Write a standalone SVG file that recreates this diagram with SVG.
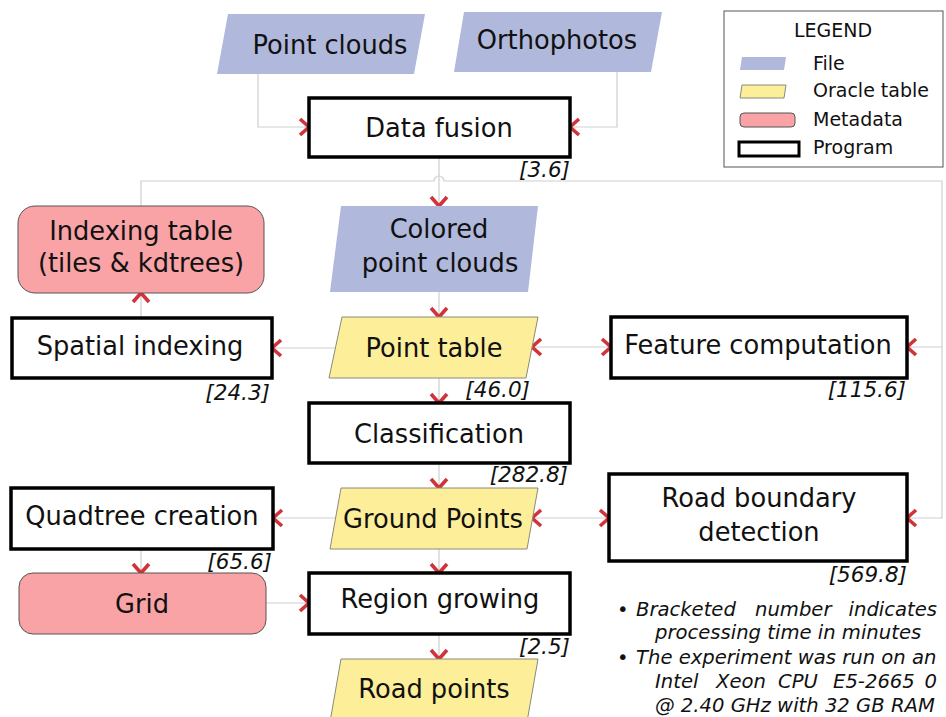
<svg xmlns="http://www.w3.org/2000/svg" width="946" height="717" viewBox="0 0 946 717">
<style>
text{font-family:"DejaVu Sans","Verdana",sans-serif;fill:#111}
.t{font-size:25.7px;text-anchor:middle}
.b{font-size:21.5px;font-style:italic;text-anchor:end}
.lg{font-size:19px}
.n{font-size:19.6px;font-style:italic}
.file{fill:#b0b8dc;stroke:none}
.ora{fill:#fdee99;stroke:#8a8a7a;stroke-width:1}
.meta{fill:#f9a3a6;stroke:#555;stroke-width:1}
.prog{fill:#fff;stroke:#000;stroke-width:3.5}
.c{fill:none;stroke:#cfcfcf;stroke-width:1.2}
.ah{fill:none;stroke:#d0343a;stroke-width:3.6}
</style>
<defs>
<path id="chev" class="ah" d="M-9,-8 L0,0 L-9,8"/>
</defs>
<g id="connectors">
<path class="c" d="M258,74 V127 H309"/>
<path class="c" d="M617,72 V127 H570"/>
<path class="c" d="M439,157 V206"/>
<path class="c" d="M141,206 V181 H434 A5,5 0 0 1 444,181 H942 V347 H907"/>
<path class="c" d="M942,347 V518 H907"/>
<path class="c" d="M439,292 V317"/>
<path class="c" d="M335,348 H272"/>
<path class="c" d="M532,347 H611"/>
<path class="c" d="M141,318 V293"/>
<path class="c" d="M439,378 V403"/>
<path class="c" d="M439,463 V488"/>
<path class="c" d="M336,518 H273"/>
<path class="c" d="M532,518 H609"/>
<path class="c" d="M141,549 V573"/>
<path class="c" d="M266,603 H309"/>
<path class="c" d="M439,549 V573"/>
<path class="c" d="M439,634 V659"/>
<use href="#chev" transform="translate(309,127)"/>
<use href="#chev" transform="translate(570,127) rotate(180)"/>
<use href="#chev" transform="translate(439,206) rotate(90)"/>
<use href="#chev" transform="translate(907,347) rotate(180)"/>
<use href="#chev" transform="translate(907,518) rotate(180)"/>
<use href="#chev" transform="translate(439,317) rotate(90)"/>
<use href="#chev" transform="translate(272,348) rotate(180)"/>
<use href="#chev" transform="translate(532,347) rotate(180)"/>
<use href="#chev" transform="translate(611,347)"/>
<use href="#chev" transform="translate(141,293) rotate(-90)"/>
<use href="#chev" transform="translate(439,403) rotate(90)"/>
<use href="#chev" transform="translate(439,488) rotate(90)"/>
<use href="#chev" transform="translate(273,518) rotate(180)"/>
<use href="#chev" transform="translate(532,518) rotate(180)"/>
<use href="#chev" transform="translate(609,518)"/>
<use href="#chev" transform="translate(141,573) rotate(90)"/>
<use href="#chev" transform="translate(309,603)"/>
<use href="#chev" transform="translate(439,573) rotate(90)"/>
<use href="#chev" transform="translate(439,659) rotate(90)"/>
</g>
<g id="point-clouds"><polygon class="file" points="228,14 425,14 414,74 217,74"/><text class="t" x="330" y="54">Point clouds</text></g>
<g id="orthophotos"><polygon class="file" points="464,12 662,12 651,72 454,72"/><text class="t" x="557" y="49">Orthophotos</text></g>
<g id="data-fusion"><rect class="prog" x="309" y="98" width="261" height="59"/><text class="t" x="439" y="137">Data fusion</text><text class="b" x="570" y="177">[3.6]</text></g>
<g id="legend">
<rect x="724" y="11" width="219" height="156" fill="#fff" stroke="#555" stroke-width="1"/>
<text class="lg" x="833" y="37" text-anchor="middle">LEGEND</text>
<polygon class="file" points="742,57 786,57 784,70 740,70"/><text class="lg" x="813" y="70">File</text>
<polygon class="ora" points="742,85 786,85 784,98 740,98"/><text class="lg" x="813" y="97">Oracle table</text>
<rect class="meta" x="740" y="113" width="55" height="14" rx="4"/><text class="lg" x="813" y="126">Metadata</text>
<rect x="739" y="142" width="60" height="14" fill="#fff" stroke="#000" stroke-width="3"/><text class="lg" x="813" y="154">Program</text>
</g>
<g id="colored-point-clouds"><polygon class="file" points="341,206 538,206 528,292 330,292"/><text class="t" x="439" y="238">Colored</text><text class="t" x="440" y="272">point clouds</text></g>
<g id="indexing-table"><rect class="meta" x="18" y="206" width="246" height="87" rx="17"/><text class="t" x="141" y="240">Indexing table</text><text class="t" x="141" y="272">(tiles &amp; kdtrees)</text></g>
<g id="spatial-indexing"><rect class="prog" x="12" y="318" width="260" height="60"/><text class="t" x="140" y="355">Spatial indexing</text><text class="b" x="270" y="400">[24.3]</text></g>
<g id="point-table"><polygon class="ora" points="342,317 538,317 526,378 329,378"/><text class="t" x="434" y="357">Point table</text><text class="b" x="530" y="397">[46.0]</text></g>
<g id="feature-computation"><rect class="prog" x="611" y="317" width="296" height="61"/><text class="t" x="758" y="354">Feature computation</text><text class="b" x="906" y="397">[115.6]</text></g>
<g id="classification"><rect class="prog" x="309" y="403" width="261" height="60"/><text class="t" x="439" y="443">Classification</text><text class="b" x="568" y="482">[282.8]</text></g>
<g id="ground-points"><polygon class="ora" points="341,488 538,488 527,549 330,549"/><text class="t" x="433" y="528">Ground Points</text></g>
<g id="road-boundary-detection"><rect class="prog" x="609" y="474" width="298" height="87"/><text class="t" x="759" y="507">Road boundary</text><text class="t" x="759" y="541">detection</text><text class="b" x="907" y="582">[569.8]</text></g>
<g id="quadtree-creation"><rect class="prog" x="11" y="488" width="262" height="61"/><text class="t" x="142" y="525">Quadtree creation</text><text class="b" x="272" y="569">[65.6]</text></g>
<g id="grid"><rect class="meta" x="19" y="573" width="247" height="61" rx="14"/><text class="t" x="142" y="613">Grid</text></g>
<g id="region-growing"><rect class="prog" x="309" y="573" width="261" height="61"/><text class="t" x="440" y="608">Region growing</text><text class="b" x="570" y="654">[2.5]</text></g>
<g id="road-points"><polygon class="ora" points="341,659 538,659 527,722 330,722"/><text class="t" x="434" y="698">Road points</text></g>
<g id="notes">
<text class="n" x="617" y="616" font-style="normal">•</text>
<text class="n" x="636" y="616">Bracketed</text>
<text class="n" x="755" y="616">number</text>
<text class="n" x="937" y="616" text-anchor="end">indicates</text>
<text class="n" x="655" y="639">processing time in minutes</text>
<text class="n" x="617" y="664" font-style="normal">•</text>
<text class="n" x="636" y="664">The experiment was run on an</text>
<text class="n" x="655" y="688">Intel</text>
<text class="n" x="716" y="688">Xeon</text>
<text class="n" x="778" y="688">CPU</text>
<text class="n" x="833" y="688">E5-2665</text>
<text class="n" x="937" y="688" text-anchor="end">0</text>
<text class="n" x="655" y="712">@ 2.40 GHz with 32 GB RAM</text>
</g>
</svg>
